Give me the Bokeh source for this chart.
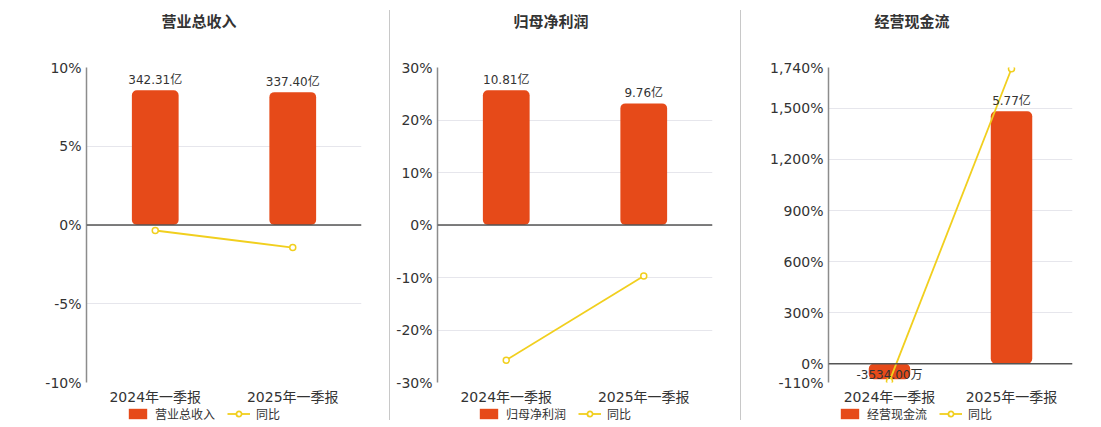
from bokeh.plotting import figure
from bokeh.models import (Range1d, FactorRange, FixedTicker, Span, ColumnDataSource,
                          LabelSet, Legend, LegendItem, Div, Title)
from bokeh.layouts import row, column
from bokeh.core.properties import value
from bokeh.embed import file_html
from bokeh.resources import INLINE

# ---------------- data ----------------
categories = ["2024年一季报", "2025年一季报"]
titles = ["营业总收入", "归母净利润", "经营现金流"]
bar_names = ["营业总收入", "归母净利润", "经营现金流"]
revenue_values = [342.31, 337.40]          # 亿
revenue_labels = ["342.31亿", "337.40亿"]
revenue_yoy = [-0.35, -1.43]               # %
profit_values = [10.81, 9.76]              # 亿
profit_labels = ["10.81亿", "9.76亿"]
profit_yoy = [-25.74, -9.71]
cash_values = [-0.3534, 5.77]              # 亿
cash_labels = ["-3534.00万", "5.77亿"]
cash_yoy = [-102.0, 1732.7]
revenue_ticks = [-10, -5, 0, 5, 10]
profit_ticks = [-30, -20, -10, 0, 10, 20, 30]
cash_ticks = [-110, 0, 300, 600, 900, 1200, 1500, 1740]

# ---------------- style ----------------
BAR_COLOR = "#e64a19"
LINE_COLOR = "#f1cf1e"
TEXT = "#333333"
FONT = "DejaVu Sans, Noto Sans CJK SC"
CJK = "Noto Sans CJK SC"

panels = [
    dict(title=titles[0], name=bar_names[0], vals=revenue_values, labels=revenue_labels,
         yoy=revenue_yoy, ticks=revenue_ticks, bar_range=(-400, 400),
         width=389, left=86, right=28, title_off=75, legend_x=40),
    dict(title=titles[1], name=bar_names[1], vals=profit_values, labels=profit_labels,
         yoy=profit_yoy, ticks=profit_ticks, bar_range=(-12.64, 12.64),
         width=350, left=47, right=28, title_off=76, legend_x=40),
    dict(title=titles[2], name=bar_names[2], vals=cash_values, labels=cash_labels,
         yoy=cash_yoy, ticks=cash_ticks, bar_range=(-0.428, 6.77),
         width=360, left=87, right=29, title_off=46, legend_x=10),
]

MAIN_H = 407
LEG_H = 19
TOP = 67
BOTTOM = 23


def make_panel(cfg):
    ticks = cfg["ticks"]
    p = figure(x_range=FactorRange(*categories, range_padding=0),
               y_range=Range1d(min(ticks), max(ticks)),
               width=cfg["width"], height=MAIN_H, output_backend="svg",
               toolbar_location=None, title_location=None,
               min_border_left=cfg["left"], min_border_right=cfg["right"],
               min_border_top=TOP, min_border_bottom=BOTTOM)
    p.outline_line_color = None
    p.background_fill_color = "white"
    p.border_fill_color = "white"

    # spacer between frame and title, then the title itself
    p.add_layout(Title(text=" ", standoff=30, text_font_size="1px"), "above")
    p.add_layout(Title(text=cfg["title"], align="left", offset=cfg["title_off"],
                       standoff=8, text_font=CJK, text_font_size="15px",
                       text_font_style="bold", text_color=TEXT), "above")

    p.extra_y_ranges = {"bar": Range1d(*cfg["bar_range"])}

    src = ColumnDataSource(dict(
        x=categories, v=cfg["vals"], yoy=cfg["yoy"], label=cfg["labels"],
        off=[3 if v >= 0 else -3 for v in cfg["vals"]]))

    p.vbar(x="x", top="v", bottom=0, width=0.34, source=src,
           y_range_name="bar", fill_color=BAR_COLOR, line_color=None,
           border_radius=5)

    p.add_layout(Span(location=0, dimension="width", line_color="#555555",
                      line_width=1.5))

    p.line(x="x", y="yoy", source=src, line_color=LINE_COLOR, line_width=1.8)
    p.scatter(x="x", y="yoy", source=src, marker="circle", size=6,
              fill_color="white", line_color=LINE_COLOR, line_width=1.5)

    p.add_layout(LabelSet(x="x", y="v", text="label", y_offset="off",
                          y_range_name="bar", source=src, text_align="center",
                          text_baseline="bottom", text_font=value(FONT),
                          text_font_size="12px", text_color=TEXT))

    # axes
    p.yaxis.ticker = FixedTicker(ticks=ticks)
    p.yaxis.major_label_overrides = {t: f"{t:,}%" for t in ticks}
    p.yaxis.major_tick_out = 0
    p.yaxis.major_tick_in = 0
    p.yaxis.major_tick_line_color = None
    p.yaxis.minor_tick_line_color = None
    p.yaxis.axis_line_color = "#8c8c8c"
    p.yaxis.axis_line_width = 1.5
    p.yaxis.major_label_text_font = FONT
    p.yaxis.major_label_text_font_size = "14px"
    p.yaxis.major_label_text_color = TEXT
    p.yaxis.major_label_standoff = 5

    p.xaxis.axis_line_color = None
    p.xaxis.major_tick_out = 0
    p.xaxis.major_tick_in = 0
    p.xaxis.major_tick_line_color = None
    p.xaxis.minor_tick_line_color = None
    p.xaxis.major_label_text_font = FONT
    p.xaxis.major_label_text_font_size = "14px"
    p.xaxis.major_label_text_color = TEXT
    p.xaxis.major_label_standoff = 6

    p.xgrid.grid_line_color = None
    p.ygrid.grid_line_color = "#e6e6ec"
    p.ygrid.grid_line_width = 1

    # legend strip under the chart (its own small figure; frame aligned with chart)
    lg = figure(width=cfg["width"], height=LEG_H, output_backend="svg",
                toolbar_location=None, x_axis_type=None, y_axis_type=None,
                min_border=0, x_range=FactorRange(*categories),
                y_range=Range1d(0, 1))
    lg.outline_line_color = None
    lg.xgrid.visible = False
    lg.ygrid.visible = False
    lb = lg.vbar(x="x", top="v", width=0.34, source=src, visible=False,
                 fill_color=BAR_COLOR, line_color=None)
    ll = lg.line(x="x", y="yoy", source=src, visible=False,
                 line_color=LINE_COLOR, line_width=1.8)
    ls = lg.scatter(x="x", y="yoy", source=src, visible=False, marker="circle",
                    fill_color="white", line_color=LINE_COLOR, line_width=1.8)
    legend = Legend(items=[LegendItem(label=cfg["name"], renderers=[lb]),
                           LegendItem(label="同比", renderers=[ll, ls])],
                    orientation="horizontal", location=(cfg["legend_x"], 4),
                    border_line_color=None, background_fill_alpha=0,
                    padding=0, margin=0, spacing=12, glyph_width=23,
                    glyph_height=13, label_standoff=6, label_height=13,
                    label_text_font=CJK, label_text_font_size="12px",
                    label_text_color=TEXT)
    lg.add_layout(legend)
    return column(p, lg, spacing=0)


def separator():
    return Div(text="", width=1, height=410, margin=(10, 0, 0, 0),
               styles={"background-color": "#c8c8c8"})


cols = [make_panel(c) for c in panels]
layout = row(cols[0], separator(), cols[1], separator(), cols[2], spacing=0)

open("out.html", "w").write(file_html(layout, INLINE))
